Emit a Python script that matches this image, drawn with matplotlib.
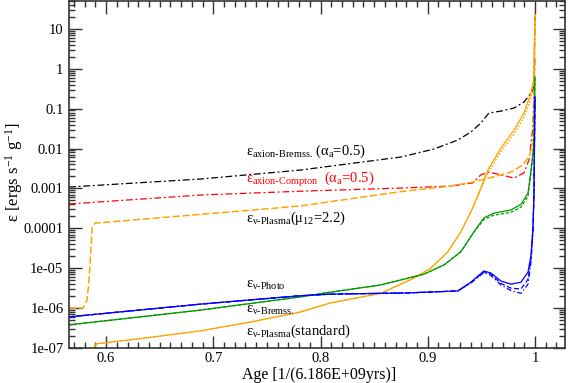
import numpy as np
import matplotlib
matplotlib.use("Agg")
import matplotlib.pyplot as plt
from matplotlib.ticker import FixedLocator, LogLocator, MultipleLocator, NullFormatter

plt.rcParams['font.family'] = ['Liberation Serif', 'DejaVu Serif']
plt.rcParams['mathtext.fontset'] = 'custom'
plt.rcParams['mathtext.rm'] = 'Liberation Serif'
plt.rcParams['mathtext.it'] = 'Liberation Serif'
plt.rcParams['mathtext.bf'] = 'Liberation Serif:bold'

# log10 of emissivity [ergs/s/g]

# axion bremsstrahlung (black dash-dot)
age_ab = [0.5654, 0.688, 0.781, 0.8748, 0.9056, 0.928, 0.9402, 0.9495, 0.957, 0.9682,
          0.9804, 0.9897, 0.9963, 0.999, 1.0]
log_ab = [-2.965, -2.764, -2.54, -2.213, -2.013, -1.787, -1.586, -1.361, -1.11, -1.06,
          -0.985, -0.835, -0.61, -0.46, 1.3]

# axion Compton (red dash-dot)
age_ac = [0.5654, 0.688, 0.781, 0.8748, 0.9215, 0.942, 0.9495, 0.957, 0.9682, 0.9804,
          0.9897, 0.9944, 0.9981, 1.0]
log_ac = [-3.39, -3.165, -3.07, -2.99, -2.94, -2.86, -2.66, -2.59, -2.66, -2.74,
          -2.61, -2.29, -1.46, 0.3]

# neutrino plasma, mu12 = 2.2 (orange dashed)
age_pm = [0.5654, 0.5785, 0.5822, 0.5841, 0.586, 0.587, 0.5897, 0.688, 0.781, 0.8748,
          0.9215, 0.942, 0.9617, 0.9776, 0.9888, 0.9944, 0.9981, 0.999, 1.0]
log_pm = [-6.0, -6.0, -5.8, -5.3, -4.47, -3.97, -3.87, -3.65, -3.44, -3.08,
          -2.94, -2.84, -2.71, -2.59, -2.41, -2.21, -1.86, -1.46, 1.35]

# neutrino plasma, standard (orange solid) and its dotted companion
age_ps = [0.5896, 0.5897, 0.6393, 0.688, 0.7346, 0.781, 0.8093, 0.8561, 0.8869, 0.9028,
          0.9187, 0.9308, 0.9402, 0.9467, 0.956, 0.9682, 0.9804, 0.9897, 0.9963, 0.999, 1.0]
log_ps = [-7.3, -6.90, -6.74, -6.57, -6.35, -6.10, -5.87, -5.63, -5.25, -5.0,
          -4.59, -4.09, -3.59, -3.17, -2.54, -1.99, -1.54, -1.11, -0.61, -0.21, 1.35]
log_ps_alt = [-7.3, -6.90, -6.74, -6.57, -6.35, -6.10, -5.87, -5.63, -5.25, -5.0,
              -4.59, -4.09, -3.59, -3.20, -2.62, -2.08, -1.64, -1.22, -0.75, -0.3, 1.35]

# neutrino bremsstrahlung (green)
age_nb = [0.5654, 0.688, 0.781, 0.8093, 0.8561, 0.8963, 0.915, 0.9308, 0.943, 0.9523,
          0.9617, 0.9776, 0.9869, 0.9935, 0.9963, 0.999, 1.0]
log_nb = [-6.42, -6.05, -5.72, -5.60, -5.42, -5.15, -4.92, -4.59, -4.09, -3.74,
          -3.62, -3.54, -3.40, -3.12, -2.54, -1.86, -0.2]
log_nb_alt = [-6.42, -6.05, -5.72, -5.60, -5.42, -5.15, -4.92, -4.59, -4.10, -3.78,
              -3.67, -3.60, -3.47, -3.20, -2.62, -1.95, -0.2]

# neutrino photo (blue) and its dashed / dash-dot companions
age_np = [0.5654, 0.688, 0.781, 0.8093, 0.88, 0.928, 0.9402, 0.9523, 0.9589, 0.9682,
          0.9776, 0.9869, 0.9935, 0.9963, 0.9981, 0.999, 1.0]
log_np = [-6.22, -5.90, -5.69, -5.65, -5.62, -5.57, -5.35, -5.07, -5.12, -5.32,
          -5.40, -5.35, -5.10, -4.67, -3.99, -3.17, -0.7]
log_np_alt1 = [-6.22, -5.90, -5.69, -5.65, -5.62, -5.57, -5.36, -5.09, -5.15, -5.38,
               -5.50, -5.52, -5.28, -4.75, -4.05, -3.2, -0.7]
log_np_alt2 = [-6.22, -5.90, -5.69, -5.65, -5.62, -5.57, -5.37, -5.11, -5.18, -5.42,
               -5.56, -5.63, -5.40, -4.85, -4.10, -3.25, -0.7]

ytick_vals = [1e-7, 1e-6, 1e-5, 1e-4, 1e-3, 1e-2, 0.1, 1, 10]
ytick_labels = ['1e-07', '1e-06', '1e-05', '0.0001', '0.001', '0.01', '0.1', '1', '10']
xtick_vals = [0.6, 0.7, 0.8, 0.9, 1.0]
xtick_labels = ['0.6', '0.7', '0.8', '0.9', '1']


def e(logs):
    return 10.0 ** np.asarray(logs)


fig = plt.figure(figsize=(5.68, 3.83), dpi=100)
ax = fig.add_axes([69 / 568, 1 - 348 / 383, 496 / 568, 347 / 383])

lw = 0.9
green = '#009a00'
ax.plot(age_ab, e(log_ab), color='black', lw=lw, dashes=(5.5, 2.2, 1.5, 2.2))
ax.plot(age_ac, e(log_ac), color='red', lw=lw, dashes=(5.5, 2.2, 1.5, 2.2))
ax.plot(age_pm, e(log_pm), color='orange', lw=1.1, dashes=(4.7, 1.8))
ax.plot(age_ps, e(log_ps), color='orange', lw=lw)
ax.plot(age_ps, e(log_ps_alt), color='orange', lw=lw, dashes=(1.5, 1.2))
ax.plot(age_nb, e(log_nb), color=green, lw=lw)
ax.plot(age_nb, e(log_nb_alt), color=green, lw=lw, dashes=(2.5, 1.5))
ax.plot(age_np, e(log_np), color='blue', lw=lw)
ax.plot(age_np, e(log_np_alt1), color='blue', lw=lw, dashes=(4, 2))
ax.plot(age_np, e(log_np_alt2), color='blue', lw=lw, dashes=(4, 2, 1, 2))

ax.set_yscale('log')
ax.set_xlim(0.5654, 1.028)
ax.set_ylim(1e-7, 50)

ax.yaxis.set_major_locator(FixedLocator(ytick_vals))
ax.set_yticklabels(ytick_labels)
ax.yaxis.set_minor_locator(LogLocator(base=10, subs=np.arange(2, 10)))
ax.yaxis.set_minor_formatter(NullFormatter())
ax.set_xticks(xtick_vals)
ax.set_xticklabels(xtick_labels)
ax.xaxis.set_minor_locator(MultipleLocator(0.01))

ax.tick_params(which='both', direction='in', top=True, right=True, labelsize=10.5,
               width=1.0, color='#333333')
ax.tick_params(which='major', length=9)
ax.tick_params(axis='x', which='major', pad=3)
ax.tick_params(axis='y', which='major', pad=4)
ax.tick_params(which='minor', length=4.5)
for sp in ax.spines.values():
    sp.set_linewidth(1.2)
    sp.set_color('#333333')

# axis titles placed in figure pixels so they sit where the original has them
fig.text(319 / 568, 1 - 379 / 383, 'Age [1/(6.186E+09yrs)]', fontsize=11.5,
         ha='center', va='baseline')
fig.text(14 / 568, 1 - 172 / 383, r'$\varepsilon$ [ergs s$^{-1}$ g$^{-1}$]', fontsize=12,
         rotation=90, ha='center', va='center')

tx = 0.7305
fs = 10.5
ax.text(tx, 10 ** -2.16, r'$\varepsilon_{\text{axion-Bremss.}}$ ($\alpha_{\text{a}}$=0.5)',
        fontsize=fs, color='black', va='baseline')
ax.text(tx, 10 ** -2.865, r'$\varepsilon_{\text{axion-Compton}}$  ($\alpha_{\text{a}}$=0.5)',
        fontsize=fs, color='red', va='baseline')
ax.text(tx, 10 ** -3.84, r'$\varepsilon_{\nu\text{-Plasma}}$($\mu_{12}$=2.2)',
        fontsize=fs, color='black', va='baseline')
ax.text(tx, 10 ** -5.50, r'$\varepsilon_{\nu\text{-Photo}}$',
        fontsize=fs, color='black', va='baseline')
ax.text(tx, 10 ** -6.12, r'$\varepsilon_{\nu\text{-Bremss.}}$',
        fontsize=fs, color='black', va='baseline')
ax.text(tx, 10 ** -6.67, r'$\varepsilon_{\nu\text{-Plasma}}$(standard)',
        fontsize=fs, color='black', va='baseline')

fig.savefig('out.png', dpi=100)
